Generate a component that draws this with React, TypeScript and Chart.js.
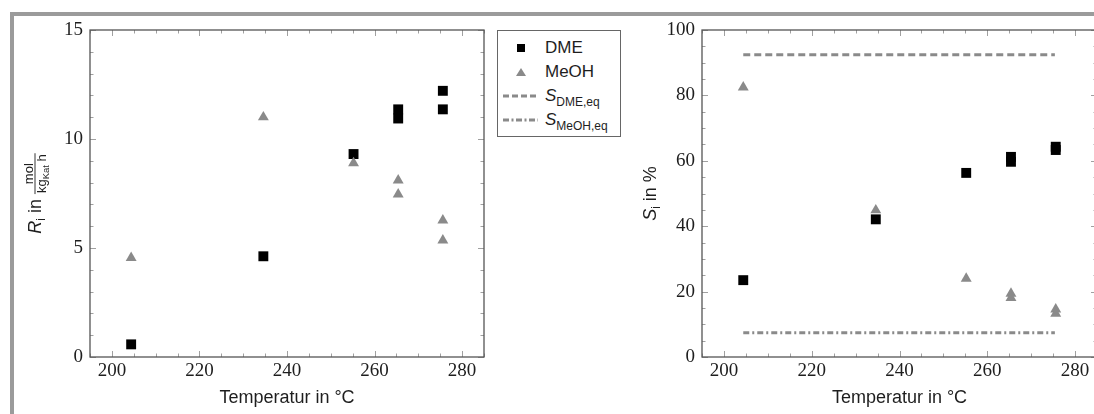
import React, { useEffect, useRef } from "react";
import { Chart, registerables } from "chart.js";

Chart.register(...registerables);

// ---------------- data ----------------
const temperatures = [204.4, 234.6, 255.2, 265.4, 265.4, 275.6, 275.6];
const rateDME = [0.58, 4.62, 9.31, 11.36, 10.94, 12.21, 11.36];
const rateMeOH = [4.55, 11.0, 8.9, 8.1, 7.46, 6.27, 5.35];
const selDME = [23.5, 42.1, 56.3, 61.2, 59.7, 64.3, 63.3];
const selMeOH = [82.5, 44.9, 24.0, 19.4, 18.1, 14.6, 13.3];
const eqRange = [204.4, 275.4];
const selDMEeq = 92.4;
const selMeOHeq = 7.4;

const xTicks = [200, 220, 240, 260, 280];
const rateTicks = [0, 5, 10, 15];
const selTicks = [0, 20, 40, 60, 80, 100];
const xLimits = [195, 285];
const rateLimits = [0, 15];
const selLimits = [0, 100];
const xMinorStep = 5;
const rateMinorStep = 1;
const selMinorStep = 5;

const xTitle = "Temperatur in °C";
const legendLabels = ["DME", "MeOH"];

// ---------------- styles ----------------
const SANS = '"Liberation Sans", Arial, sans-serif';
const SERIF_FAMILY = "Liberation Serif";
const GRAY = "#8a8a8a";
const TEXT = "#1e1e1e";

Chart.defaults.font.family = SERIF_FAMILY;

type Seg = { text: string; font: string; dv: number };

function segWidth(ctx: CanvasRenderingContext2D, segs: Seg[]) {
  let w = 0;
  for (const s of segs) {
    ctx.font = s.font;
    w += ctx.measureText(s.text).width;
  }
  return w;
}

function drawSegs(ctx: CanvasRenderingContext2D, segs: Seg[], u0: number) {
  let u = u0;
  for (const s of segs) {
    ctx.font = s.font;
    ctx.fillText(s.text, u, s.dv);
    u += ctx.measureText(s.text).width;
  }
  return u;
}

function makeFramePlugin(xMajor: number[], xMinor: number, yMajor: number[], yMinor: number) {
  return {
    id: "tickFrame",
    beforeDatasetsDraw(chart: any) {
      const { ctx, chartArea: a } = chart;
      const xs = chart.scales.x;
      const ys = chart.scales.y;
      ctx.save();
      ctx.strokeStyle = "#a0a0a0";
      ctx.lineWidth = 1;
      ctx.beginPath();
      for (let v = Math.ceil(xs.min / xMinor) * xMinor; v <= xs.max + 1e-9; v += xMinor) {
        const len = xMajor.includes(v) ? 6 : 3.5;
        const px = Math.round(xs.getPixelForValue(v)) + 0.5;
        ctx.moveTo(px, a.bottom);
        ctx.lineTo(px, a.bottom - len);
        ctx.moveTo(px, a.top);
        ctx.lineTo(px, a.top + len);
      }
      for (let v = Math.ceil(ys.min / yMinor) * yMinor; v <= ys.max + 1e-9; v += yMinor) {
        const len = yMajor.includes(v) ? 6 : 3.5;
        const py = Math.round(ys.getPixelForValue(v)) + 0.5;
        ctx.moveTo(a.left, py);
        ctx.lineTo(a.left + len, py);
        ctx.moveTo(a.right, py);
        ctx.lineTo(a.right - len, py);
      }
      ctx.stroke();
      ctx.strokeStyle = "#555";
      ctx.lineWidth = 1.3;
      ctx.strokeRect(a.left, a.top, a.right - a.left, a.bottom - a.top);
      ctx.restore();
    },
  };
}

function makeTitlePlugin(kind: "rate" | "sel", yTitleX: number) {
  return {
    id: "titles",
    afterDraw(chart: any) {
      const { ctx, chartArea: a } = chart;
      ctx.save();
      ctx.fillStyle = TEXT;
      ctx.textBaseline = "alphabetic";
      ctx.textAlign = "left";
      // x title
      ctx.font = `18px ${SANS}`;
      const cx = (a.left + a.right) / 2;
      const w = ctx.measureText(xTitle).width;
      ctx.fillText(xTitle, cx - w / 2, 403);
      // y title
      const cy = (a.top + a.bottom) / 2;
      ctx.translate(yTitleX, cy);
      ctx.rotate(-Math.PI / 2);
      const big = `18px ${SANS}`;
      const bigI = `italic 18px ${SANS}`;
      const sub = `12px ${SANS}`;
      if (kind === "sel") {
        const segs: Seg[] = [
          { text: "S", font: bigI, dv: 0 },
          { text: "i", font: sub, dv: 4 },
          { text: " in %", font: big, dv: 0 },
        ];
        drawSegs(ctx, segs, -segWidth(ctx, segs) / 2);
      } else {
        const segs: Seg[] = [
          { text: "R", font: bigI, dv: 0 },
          { text: "i", font: sub, dv: 4 },
          { text: " in ", font: big, dv: 0 },
        ];
        const fr = `13px ${SANS}`;
        const frSub = `9.5px ${SANS}`;
        const lineV = -6;
        const num: Seg[] = [{ text: "mol", font: fr, dv: lineV - 2.5 }];
        const den: Seg[] = [
          { text: "kg", font: fr, dv: lineV + 11 },
          { text: "Kat", font: frSub, dv: lineV + 13.5 },
          { text: " h", font: fr, dv: lineV + 11 },
        ];
        const wMain = segWidth(ctx, segs);
        const wNum = segWidth(ctx, num);
        const wDen = segWidth(ctx, den);
        const wFrac = Math.max(wNum, wDen) + 2;
        const total = wMain + wFrac;
        let u = drawSegs(ctx, segs, -total / 2);
        drawSegs(ctx, num, u + (wFrac - wNum) / 2);
        drawSegs(ctx, den, u + (wFrac - wDen) / 2);
        ctx.strokeStyle = TEXT;
        ctx.lineWidth = 0.9;
        ctx.beginPath();
        ctx.moveTo(u, lineV);
        ctx.lineTo(u + wFrac, lineV);
        ctx.stroke();
      }
      ctx.restore();
    },
  };
}

function scaleX() {
  return {
    type: "linear",
    min: xLimits[0],
    max: xLimits[1],
    afterBuildTicks: (s: any) => {
      s.ticks = xTicks.map((v) => ({ value: v }));
    },
    afterFit: (s: any) => {
      s.height = 57;
    },
    grid: { display: false, drawTicks: false },
    border: { display: false },
    ticks: {
      font: { family: SERIF_FAMILY, size: 19 },
      color: TEXT,
      padding: 3,
      maxRotation: 0,
      autoSkip: false,
      callback: (v: any) => String(v),
    },
  };
}

function scaleY(limits: number[], ticks: number[], width: number) {
  return {
    type: "linear",
    min: limits[0],
    max: limits[1],
    afterBuildTicks: (s: any) => {
      s.ticks = ticks.map((v) => ({ value: v }));
    },
    afterFit: (s: any) => {
      s.width = width;
    },
    grid: { display: false, drawTicks: false },
    border: { display: false },
    ticks: {
      font: { family: SERIF_FAMILY, size: 19 },
      color: TEXT,
      padding: 7,
      autoSkip: false,
      callback: (v: any) => String(v),
    },
  };
}

function pts(xs: number[], ys: number[]) {
  return xs.map((x, i) => ({ x, y: ys[i] }));
}

function markerSets(a: number[], b: number[]) {
  return [
    {
      label: legendLabels[0],
      data: pts(temperatures, a),
      pointStyle: "rect",
      pointRadius: 7,
      backgroundColor: "#000",
      borderWidth: 0,
      order: 2,
    },
    {
      label: legendLabels[1],
      data: pts(temperatures, b),
      pointStyle: "triangle",
      pointRadius: 6.3,
      backgroundColor: GRAY,
      borderWidth: 0,
      order: 1,
    },
  ];
}

export default function App() {
  const leftRef = useRef<HTMLCanvasElement>(null);
  const rightRef = useRef<HTMLCanvasElement>(null);

  useEffect(() => {
    const common = {
      animation: false,
      responsive: false,
      devicePixelRatio: 1,
      plugins: { legend: { display: false }, tooltip: { enabled: false } },
    };
    const left = new Chart(leftRef.current as HTMLCanvasElement, {
      type: "scatter",
      data: { datasets: markerSets(rateDME, rateMeOH) as any },
      options: {
        ...common,
        layout: { padding: { left: 0, top: 30, right: 11, bottom: 0 } },
        scales: {
          x: scaleX() as any,
          y: scaleY(rateLimits, rateTicks, 90) as any,
        },
      } as any,
      plugins: [makeFramePlugin(xTicks, xMinorStep, rateTicks, rateMinorStep), makeTitlePlugin("rate", 41)],
    });

    const eqX = eqRange;
    const right = new Chart(rightRef.current as HTMLCanvasElement, {
      type: "scatter",
      data: {
        datasets: [
          ...markerSets(selDME, selMeOH),
          {
            label: "S_DME,eq",
            data: pts(eqX, [selDMEeq, selDMEeq]),
            showLine: true,
            borderColor: GRAY,
            borderWidth: 3,
            borderDash: [7, 4],
            pointRadius: 0,
            order: 3,
          },
          {
            label: "S_MeOH,eq",
            data: pts(eqX, [selMeOHeq, selMeOHeq]),
            showLine: true,
            borderColor: GRAY,
            borderWidth: 3,
            borderDash: [6, 3, 2, 3],
            pointRadius: 0,
            order: 4,
          },
        ] as any,
      },
      options: {
        ...common,
        layout: { padding: { left: 0, top: 30, right: 13, bottom: 0 } },
        scales: {
          x: scaleX() as any,
          y: scaleY(selLimits, selTicks, 102) as any,
        },
      } as any,
      plugins: [makeFramePlugin(xTicks, xMinorStep, selTicks, selMinorStep), makeTitlePlugin("sel", 56)],
    });

    return () => {
      left.destroy();
      right.destroy();
    };
  }, []);

  const rowStyle = (i: number): React.CSSProperties => ({
    position: "absolute",
    left: 0,
    top: 5 + 24 * i,
    width: "100%",
    height: 24,
  });
  const textStyle: React.CSSProperties = {
    position: "absolute",
    left: 47,
    top: 0,
    lineHeight: "24px",
    whiteSpace: "nowrap",
  };
  const subStyle: React.CSSProperties = { fontSize: 12, position: "relative", top: 5 };

  return (
    <div
      style={{
        position: "fixed",
        left: 0,
        top: 0,
        width: 1094,
        height: 414,
        overflow: "hidden",
        background: "#fff",
      }}
    >
      <div
        style={{
          position: "absolute",
          left: 10,
          top: 12,
          width: 2000,
          height: 2000,
          borderLeft: "4px solid #9b9b9b",
          borderTop: "4px solid #9b9b9b",
        }}
      />
      <canvas ref={leftRef} width={495} height={414} style={{ position: "absolute", left: 0, top: 0 }} />
      <canvas ref={rightRef} width={510} height={414} style={{ position: "absolute", left: 600, top: 0 }} />
      <div
        style={{
          position: "absolute",
          left: 497,
          top: 30,
          width: 124,
          height: 107,
          boxSizing: "border-box",
          border: "1px solid #666",
          background: "#fff",
          fontFamily: SANS,
          fontSize: 17,
          color: TEXT,
        }}
      >
        <div style={rowStyle(0)}>
          <svg width={40} height={24} style={{ position: "absolute", left: 4, top: 0 }}>
            <rect x={15} y={8} width={8} height={8} fill="#000" />
          </svg>
          <span style={textStyle}>{legendLabels[0]}</span>
        </div>
        <div style={rowStyle(1)}>
          <svg width={40} height={24} style={{ position: "absolute", left: 4, top: 0 }}>
            <polygon points="14,16 24,16 19,8" fill={GRAY} />
          </svg>
          <span style={textStyle}>{legendLabels[1]}</span>
        </div>
        <div style={rowStyle(2)}>
          <svg width={40} height={24} style={{ position: "absolute", left: 4, top: 0 }}>
            <line x1={1} y1={12} x2={36} y2={12} stroke={GRAY} strokeWidth={3} strokeDasharray="6 3" />
          </svg>
          <span style={textStyle}>
            <span style={{ fontStyle: "italic" }}>S</span>
            <span style={subStyle}>DME,eq</span>
          </span>
        </div>
        <div style={rowStyle(3)}>
          <svg width={40} height={24} style={{ position: "absolute", left: 4, top: 0 }}>
            <line x1={1} y1={12} x2={36} y2={12} stroke={GRAY} strokeWidth={3} strokeDasharray="6 2.5 2 2.5" />
          </svg>
          <span style={textStyle}>
            <span style={{ fontStyle: "italic" }}>S</span>
            <span style={subStyle}>MeOH,eq</span>
          </span>
        </div>
      </div>
    </div>
  );
}
